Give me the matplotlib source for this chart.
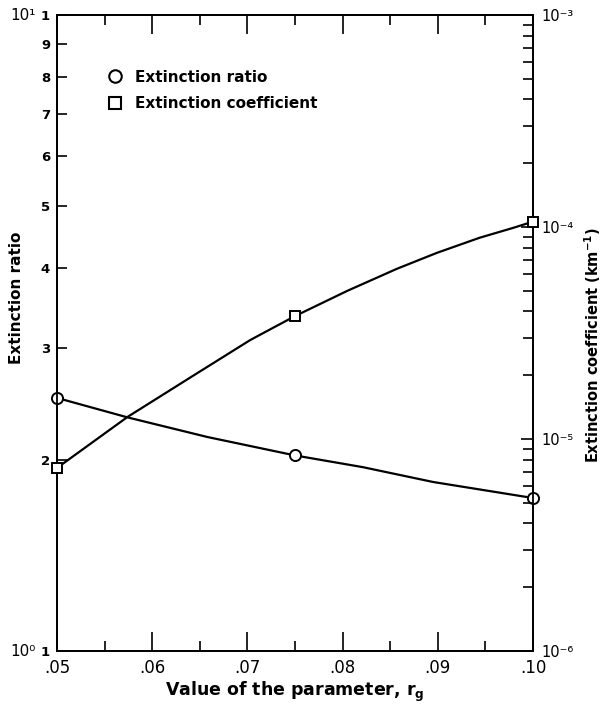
import matplotlib
matplotlib.use("Agg")
import matplotlib.pyplot as plt
from matplotlib.lines import Line2D
from matplotlib.ticker import FixedLocator, NullFormatter, LogLocator, NullLocator

plt.rcParams['font.family'] = ['DejaVu Sans']
plt.rcParams['mathtext.fontset'] = 'custom'
plt.rcParams['mathtext.rm'] = 'DejaVu Sans'
plt.rcParams['mathtext.bf'] = 'DejaVu Sans:bold'

# ---- data ----
r_g = [0.05, 0.075, 0.10]
ext_ratio = [2.50, 2.03, 1.74]
ext_coef = [7.3e-6, 3.8e-5, 1.06e-4]

# traced points along the drawn smooth curves
ratio_line_x = [0.05, 0.0574, 0.0658, 0.075, 0.0821, 0.0895, 0.10]
ratio_line_y = [2.50, 2.33, 2.17, 2.03, 1.946, 1.844, 1.74]
coef_line_x = [0.05, 0.0574, 0.0640, 0.0703, 0.075, 0.0805, 0.0857, 0.0899, 0.0944, 0.0979, 0.10]
coef_line_y = [7.3e-6, 1.27e-5, 1.95e-5, 2.93e-5, 3.8e-5, 5.0e-5, 6.35e-5, 7.55e-5, 8.9e-5, 9.9e-5, 1.06e-4]

x_ticks = [0.05, 0.06, 0.07, 0.08, 0.09, 0.10]
x_ticklabels = ['.05', '.06', '.07', '.08', '.09', '.10']
x_minor = [0.055, 0.065, 0.075, 0.085, 0.095]
left_ticks = [1, 2, 3, 4, 5, 6, 7, 8, 9, 10]
left_ticklabels = ['1', '2', '3', '4', '5', '6', '7', '8', '9', '1']
right_ticks = [1e-6, 1e-5, 1e-4, 1e-3]
right_ticklabels = ['10⁻⁶', '10⁻⁵', '10⁻⁴', '10⁻³']

W, H = 602, 708
fig = plt.figure(figsize=(W / 100, H / 100), dpi=100)
L, R, T, B = 57, 533, 15, 651
ax = fig.add_axes([L / W, 1 - B / H, (R - L) / W, (B - T) / H])

ax.set_yscale('log')
ax.set_xlim(0.05, 0.10)
ax.set_ylim(1, 10)

ax.plot(ratio_line_x, ratio_line_y, color='black', lw=1.6, zorder=2)
ax.plot(r_g, ext_ratio, ls='none', marker='o', ms=8, mfc='white', mec='black',
        mew=1.4, zorder=4, clip_on=False)

ax.xaxis.set_major_locator(FixedLocator(x_ticks))
ax.set_xticklabels(x_ticklabels, fontsize=12)
ax.xaxis.set_minor_locator(FixedLocator(x_minor))
ax.yaxis.set_major_locator(FixedLocator(left_ticks))
ax.set_yticklabels(left_ticklabels, fontsize=9.5, fontweight='bold')
ax.yaxis.set_minor_locator(NullLocator())
ax.yaxis.set_minor_formatter(NullFormatter())

ax.tick_params(axis='x', which='major', direction='in', length=14, width=1.2,
               top=True, bottom=True, pad=6)
ax.tick_params(axis='x', which='minor', direction='in', length=7, width=1.2,
               top=True, bottom=True)
ax.tick_params(axis='y', which='major', direction='in', length=7, width=1.2,
               left=True, right=False, pad=5)

for s in ax.spines.values():
    s.set_linewidth(1.3)

ax.text((36 - L) / (R - L), 1.0, '10¹', transform=ax.transAxes, ha='right', va='center',
        fontsize=11)
ax.text((36 - L) / (R - L), 0.0, '10⁰', transform=ax.transAxes, ha='right', va='center',
        fontsize=11)

ax.set_xlabel(r'Value of the parameter, $\mathbf{r_g}$', fontsize=12.5,
              fontweight='bold')
ax.xaxis.set_label_coords(0.5, (B - 680) / (B - T))
ax.set_ylabel('Extinction ratio', fontsize=11, fontweight='bold')
ax.yaxis.set_label_coords((24 - L) / (R - L), (B - 298) / (B - T))

ax2 = ax.twinx()
ax2.set_yscale('log')
ax2.set_ylim(1e-6, 1e-3)
ax2.plot(coef_line_x, coef_line_y, color='black', lw=1.6, zorder=2)
ax2.plot(r_g, ext_coef, ls='none', marker='s', ms=7.5, mfc='white', mec='black',
         mew=1.4, zorder=4, clip_on=False)
ax2.yaxis.set_major_locator(FixedLocator(right_ticks))
ax2.set_yticklabels(right_ticklabels, fontsize=10.5)
ax2.yaxis.set_minor_locator(LogLocator(base=10, subs=[2, 3, 4, 5, 6, 7, 8, 9]))
ax2.yaxis.set_minor_formatter(NullFormatter())
ax2.tick_params(axis='y', which='major', direction='in', length=9, width=1.2, pad=6)
ax2.tick_params(axis='y', which='minor', direction='in', length=7, width=1.2)
ax2.set_ylabel(r'Extinction coefficient (km$\mathbf{^{-1}}$)', fontsize=10.5,
               fontweight='bold')
ax2.yaxis.set_label_coords((582 - L) / (R - L), (B - 345) / (B - T))
for s in ax2.spines.values():
    s.set_linewidth(1.3)

handles = [
    Line2D([], [], ls='none', marker='o', ms=9, mfc='white', mec='black', mew=1.5),
    Line2D([], [], ls='none', marker='s', ms=8, mfc='white', mec='black', mew=1.5),
]
fig.legend(handles, ['Extinction ratio', 'Extinction coefficient'],
           loc='upper left', bbox_to_anchor=(100 / W, 1 - 62 / H),
           bbox_transform=fig.transFigure, frameon=False, borderpad=0,
           handlelength=1.0, handletextpad=0.8, labelspacing=0.75,
           prop={'weight': 'bold', 'size': 11})

fig.savefig('out.png', dpi=100)
